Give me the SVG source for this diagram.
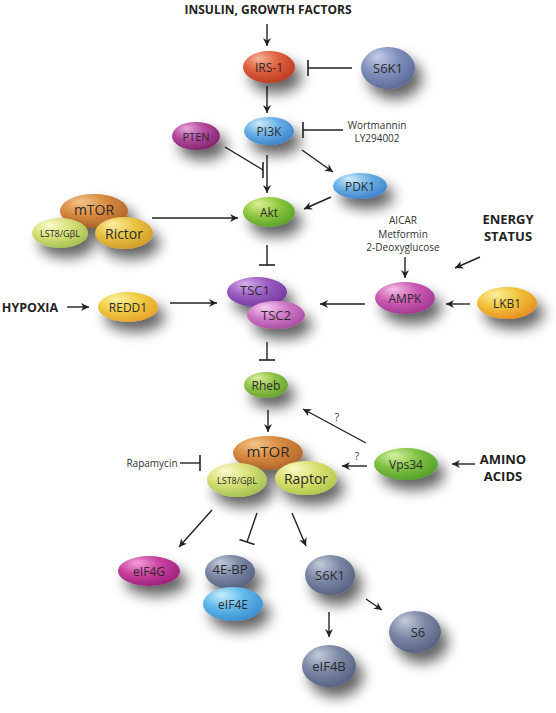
<svg xmlns="http://www.w3.org/2000/svg" width="556" height="713" viewBox="0 0 556 713">
<style>
.n{font-family:"Open Sans","Liberation Sans",sans-serif;fill:#2a2a2a;text-anchor:middle;dominant-baseline:central}
.b{font-family:"Open Sans","Liberation Sans",sans-serif;font-weight:bold;fill:#222;text-anchor:middle}
.t{font-family:"Open Sans","Liberation Sans",sans-serif;fill:#333;text-anchor:middle;font-size:10px}
.c line{stroke:#222;stroke-width:1.4;fill:none}
.a{marker-end:url(#arr)}
.i{marker-end:url(#bar)}
.sh{filter:url(#shadow)}
</style>
<defs>
<filter id="shadow" x="-60%" y="-60%" width="240%" height="260%">
<feGaussianBlur in="SourceAlpha" stdDeviation="7"/>
<feOffset dx="7" dy="10" result="o"/>
<feComponentTransfer><feFuncA type="linear" slope="0.62"/></feComponentTransfer>
<feMerge><feMergeNode/><feMergeNode in="SourceGraphic"/></feMerge>
</filter>
<marker id="arr" viewBox="0 0 10 10" refX="10" refY="5" markerWidth="10" markerHeight="8" orient="auto" markerUnits="userSpaceOnUse"><path d="M0,0 L10,5 L0,10 L3,5 z" fill="#222"/></marker>
<marker id="bar" viewBox="0 0 4 16" refX="2" refY="8" markerWidth="4" markerHeight="16" orient="auto" markerUnits="userSpaceOnUse"><path d="M2,0 V16" stroke="#222" stroke-width="1.6"/></marker>
<radialGradient id="g-irs" cx="0.4" cy="0.35" r="0.7" fx="0.3" fy="0.22"><stop offset="0" stop-color="#f6b49a"/><stop offset="0.5" stop-color="#e0603e"/><stop offset="1" stop-color="#b83a22"/></radialGradient>
<radialGradient id="g-s6kt" cx="0.4" cy="0.35" r="0.7" fx="0.3" fy="0.22"><stop offset="0" stop-color="#c6cee6"/><stop offset="0.5" stop-color="#8090bc"/><stop offset="1" stop-color="#5b6897"/></radialGradient>
<radialGradient id="g-slate" cx="0.4" cy="0.35" r="0.7" fx="0.3" fy="0.22"><stop offset="0" stop-color="#c4cbda"/><stop offset="0.5" stop-color="#7c89a6"/><stop offset="1" stop-color="#55607f"/></radialGradient>
<radialGradient id="g-blue" cx="0.4" cy="0.35" r="0.7" fx="0.3" fy="0.22"><stop offset="0" stop-color="#d2ecfb"/><stop offset="0.5" stop-color="#6ab0e6"/><stop offset="1" stop-color="#3c7fc8"/></radialGradient>
<radialGradient id="g-pten" cx="0.4" cy="0.35" r="0.7" fx="0.3" fy="0.22"><stop offset="0" stop-color="#e8a8dc"/><stop offset="0.5" stop-color="#b0489c"/><stop offset="1" stop-color="#80246e"/></radialGradient>
<radialGradient id="g-akt" cx="0.4" cy="0.35" r="0.7" fx="0.3" fy="0.22"><stop offset="0" stop-color="#e0f09a"/><stop offset="0.5" stop-color="#90c840"/><stop offset="1" stop-color="#58a028"/></radialGradient>
<radialGradient id="g-mtor" cx="0.4" cy="0.35" r="0.7" fx="0.3" fy="0.22"><stop offset="0" stop-color="#f4c48a"/><stop offset="0.5" stop-color="#d88a40"/><stop offset="1" stop-color="#b0642a"/></radialGradient>
<radialGradient id="g-lst8" cx="0.4" cy="0.35" r="0.7" fx="0.3" fy="0.22"><stop offset="0" stop-color="#fbfbd0"/><stop offset="0.5" stop-color="#d8e078"/><stop offset="1" stop-color="#a0c050"/></radialGradient>
<radialGradient id="g-rictor" cx="0.4" cy="0.35" r="0.7" fx="0.3" fy="0.22"><stop offset="0" stop-color="#fbf0a0"/><stop offset="0.5" stop-color="#e8c444"/><stop offset="1" stop-color="#d09a24"/></radialGradient>
<radialGradient id="g-tsc1" cx="0.4" cy="0.35" r="0.7" fx="0.3" fy="0.22"><stop offset="0" stop-color="#d6b0ec"/><stop offset="0.5" stop-color="#9a5cc0"/><stop offset="1" stop-color="#70389a"/></radialGradient>
<radialGradient id="g-tsc2" cx="0.4" cy="0.35" r="0.7" fx="0.3" fy="0.22"><stop offset="0" stop-color="#f4cdf0"/><stop offset="0.5" stop-color="#d078c8"/><stop offset="1" stop-color="#a84ca0"/></radialGradient>
<radialGradient id="g-redd" cx="0.4" cy="0.35" r="0.7" fx="0.3" fy="0.22"><stop offset="0" stop-color="#fbf0a0"/><stop offset="0.5" stop-color="#f0cc44"/><stop offset="1" stop-color="#e8a028"/></radialGradient>
<radialGradient id="g-ampk" cx="0.4" cy="0.35" r="0.7" fx="0.3" fy="0.22"><stop offset="0" stop-color="#f4c0e4"/><stop offset="0.5" stop-color="#cc5ab4"/><stop offset="1" stop-color="#a03890"/></radialGradient>
<radialGradient id="g-lkb" cx="0.4" cy="0.35" r="0.7" fx="0.3" fy="0.22"><stop offset="0" stop-color="#fbf0a0"/><stop offset="0.5" stop-color="#f0c43c"/><stop offset="1" stop-color="#e88c20"/></radialGradient>
<radialGradient id="g-rheb" cx="0.4" cy="0.35" r="0.7" fx="0.3" fy="0.22"><stop offset="0" stop-color="#dcf0a0"/><stop offset="0.5" stop-color="#90c44a"/><stop offset="1" stop-color="#64a030"/></radialGradient>
<radialGradient id="g-raptor" cx="0.4" cy="0.35" r="0.7" fx="0.3" fy="0.22"><stop offset="0" stop-color="#fbfbc8"/><stop offset="0.5" stop-color="#dae070"/><stop offset="1" stop-color="#b0c848"/></radialGradient>
<radialGradient id="g-vps" cx="0.4" cy="0.35" r="0.7" fx="0.3" fy="0.22"><stop offset="0" stop-color="#d8f0a0"/><stop offset="0.5" stop-color="#80c244"/><stop offset="1" stop-color="#50a028"/></radialGradient>
<radialGradient id="g-eif4g" cx="0.4" cy="0.35" r="0.7" fx="0.3" fy="0.22"><stop offset="0" stop-color="#f4a0d8"/><stop offset="0.5" stop-color="#c8409c"/><stop offset="1" stop-color="#98207a"/></radialGradient>
<radialGradient id="g-eif4e" cx="0.4" cy="0.35" r="0.7" fx="0.3" fy="0.22"><stop offset="0" stop-color="#c8eefc"/><stop offset="0.5" stop-color="#60b8ea"/><stop offset="1" stop-color="#3a8cd0"/></radialGradient>
</defs>
<rect width="556" height="713" fill="#ffffff"/>

<g id="labels">
<text class="b" x="268" y="14" font-size="12">INSULIN, GROWTH FACTORS</text>
<text class="t" x="377" y="129">Wortmannin</text>
<text class="t" x="377" y="142">LY294002</text>
<text class="t" x="403" y="224">AICAR</text>
<text class="t" x="403" y="238">Metformin</text>
<text class="t" x="403" y="251">2-Deoxyglucose</text>
<text class="b" x="508" y="224" font-size="13">ENERGY</text>
<text class="b" x="508" y="241" font-size="13">STATUS</text>
<text class="b" x="30" y="312" font-size="12.5">HYPOXIA</text>
<text class="b" x="503" y="464" font-size="13">AMINO</text>
<text class="b" x="503" y="481" font-size="13">ACIDS</text>
<text class="t" x="152" y="467">Rapamycin</text>
</g>

<g id="connectors" class="c">
<line class="a" x1="267" y1="24" x2="267" y2="46"/>
<line class="i" x1="352" y1="68" x2="308" y2="68"/>
<line class="a" x1="267" y1="86" x2="267" y2="113"/>
<line class="i" x1="343" y1="130" x2="303" y2="130"/>
<line x1="225" y1="147" x2="263" y2="170"/>
<line x1="263" y1="162" x2="263" y2="178" style="stroke-width:1.6"/>
<line class="a" x1="267" y1="155" x2="267" y2="193"/>
<line class="a" x1="302" y1="150" x2="333" y2="172"/>
<line class="a" x1="331" y1="197" x2="304" y2="209"/>
<line class="a" x1="152" y1="218" x2="238" y2="218"/>
<line class="i" x1="267" y1="245" x2="267" y2="265"/>
<line class="a" x1="405" y1="257" x2="405" y2="278"/>
<line class="a" x1="480" y1="257" x2="455" y2="268"/>
<line class="a" x1="470" y1="304" x2="446" y2="304"/>
<line class="a" x1="365" y1="304" x2="320" y2="304"/>
<line class="a" x1="67" y1="307" x2="89" y2="307"/>
<line class="a" x1="170" y1="303" x2="217" y2="303"/>
<line class="i" x1="267" y1="342" x2="267" y2="360"/>
<line class="a" x1="268" y1="410" x2="268" y2="432"/>
<line class="a" x1="366" y1="443" x2="303" y2="409"/>
<line class="a" x1="367" y1="466" x2="342" y2="466"/>
<line class="a" x1="475" y1="464" x2="452" y2="464"/>
<line class="i" x1="180" y1="463" x2="200" y2="463"/>
<line class="a" x1="212" y1="510" x2="179" y2="547"/>
<line class="i" x1="257" y1="513" x2="247" y2="542"/>
<line class="a" x1="292" y1="513" x2="306" y2="546"/>
<line class="a" x1="329" y1="612" x2="329" y2="637"/>
<line class="a" x1="366" y1="599" x2="382" y2="610"/>
<text class="t" x="337" y="421" font-size="9" stroke="none">?</text>
<text class="t" x="357" y="460" font-size="9" stroke="none">?</text>
</g>

<g id="irs1"><ellipse class="sh" cx="269" cy="67" rx="26" ry="16" fill="url(#g-irs)"/><text class="n" x="269" y="67" font-size="12">IRS-1</text></g>
<g id="s6k1-top"><ellipse class="sh" cx="388" cy="68" rx="27" ry="21" fill="url(#g-s6kt)"/><text class="n" x="388" y="68" font-size="13">S6K1</text></g>
<g id="pi3k"><ellipse class="sh" cx="269" cy="131" rx="25" ry="14" fill="url(#g-blue)"/><text class="n" x="269" y="131" font-size="12">PI3K</text></g>
<g id="pten"><ellipse class="sh" cx="196" cy="136" rx="24" ry="14" fill="url(#g-pten)"/><text class="n" x="196" y="136" font-size="11">PTEN</text></g>
<g id="pdk1"><ellipse class="sh" cx="360" cy="186" rx="27" ry="13" fill="url(#g-blue)"/><text class="n" x="360" y="186" font-size="12">PDK1</text></g>
<g id="akt"><ellipse class="sh" cx="269" cy="212" rx="26" ry="15" fill="url(#g-akt)"/><text class="n" x="269" y="212" font-size="12">Akt</text></g>
<g id="mtorc2">
<ellipse class="sh" cx="94" cy="211" rx="34" ry="17" fill="url(#g-mtor)"/><text class="n" x="94" y="209" font-size="14">mTOR</text>
<ellipse class="sh" cx="60" cy="233" rx="28" ry="15" fill="url(#g-lst8)"/><text class="n" x="60" y="233" font-size="9">LST8/GβL</text>
<ellipse class="sh" cx="124" cy="233" rx="29" ry="16" fill="url(#g-rictor)"/><text class="n" x="124" y="233" font-size="14">Rictor</text>
</g>
<g id="tsc">
<ellipse class="sh" cx="257" cy="292" rx="30" ry="15" fill="url(#g-tsc1)"/><text class="n" x="255" y="290" font-size="13">TSC1</text>
<ellipse class="sh" cx="276" cy="315" rx="29" ry="14" fill="url(#g-tsc2)"/><text class="n" x="276" y="315" font-size="13">TSC2</text>
</g>
<g id="redd1"><ellipse class="sh" cx="128" cy="307" rx="30" ry="15" fill="url(#g-redd)"/><text class="n" x="128" y="307" font-size="12">REDD1</text></g>
<g id="ampk"><ellipse class="sh" cx="405" cy="298" rx="30" ry="16" fill="url(#g-ampk)"/><text class="n" x="405" y="298" font-size="12">AMPK</text></g>
<g id="lkb1"><ellipse class="sh" cx="507" cy="303" rx="30" ry="16" fill="url(#g-lkb)"/><text class="n" x="507" y="303" font-size="12">LKB1</text></g>
<g id="rheb"><ellipse class="sh" cx="266" cy="385" rx="22" ry="13" fill="url(#g-rheb)"/><text class="n" x="266" y="385" font-size="12">Rheb</text></g>
<g id="mtorc1">
<ellipse class="sh" cx="268" cy="453" rx="35" ry="17" fill="url(#g-mtor)"/><text class="n" x="268" y="451" font-size="15">mTOR</text>
<ellipse class="sh" cx="237" cy="480" rx="30" ry="17" fill="url(#g-lst8)"/><text class="n" x="237" y="480" font-size="9">LST8/GβL</text>
<ellipse class="sh" cx="306" cy="478" rx="31" ry="17" fill="url(#g-raptor)"/><text class="n" x="306" y="478" font-size="14">Raptor</text>
</g>
<g id="vps34"><ellipse class="sh" cx="406" cy="464" rx="32" ry="16" fill="url(#g-vps)"/><text class="n" x="406" y="464" font-size="12">Vps34</text></g>
<g id="eif4g"><ellipse class="sh" cx="149" cy="571" rx="31" ry="15" fill="url(#g-eif4g)"/><text class="n" x="149" y="571" font-size="12">eIF4G</text></g>
<g id="eif4e-complex">
<ellipse class="sh" cx="230" cy="572" rx="25" ry="17" fill="url(#g-slate)"/><text class="n" x="230" y="569" font-size="13">4E-BP</text>
<ellipse class="sh" cx="233" cy="604" rx="30" ry="17" fill="url(#g-eif4e)"/><text class="n" x="233" y="604" font-size="12">eIF4E</text>
</g>
<g id="s6k1"><ellipse class="sh" cx="330" cy="575" rx="25" ry="20" fill="url(#g-slate)"/><text class="n" x="330" y="575" font-size="13">S6K1</text></g>
<g id="eif4b"><ellipse class="sh" cx="329" cy="666" rx="27" ry="21" fill="url(#g-slate)"/><text class="n" x="329" y="666" font-size="13">eIF4B</text></g>
<g id="s6"><ellipse class="sh" cx="415" cy="632" rx="26" ry="21" fill="url(#g-slate)"/><text class="n" x="418" y="632" font-size="13">S6</text></g>
</svg>
